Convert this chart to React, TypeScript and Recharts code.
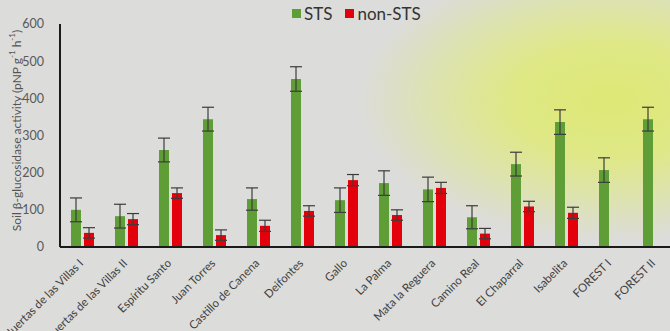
import React from "react";
import { BarChart, Bar, XAxis, YAxis, ErrorBar, Legend, Label } from "recharts";

const sites = [
  "Huertas de las Villas I",
  "Huertas de las Villas II",
  "Espíritu Santo",
  "Juan Torres",
  "Castillo de Canena",
  "Deifontes",
  "Gallo",
  "La Palma",
  "Mata la Reguera",
  "Camino Real",
  "El Chaparral",
  "Isabelita",
  "FOREST I",
  "FOREST II",
];

const stsValues = [100, 83, 261, 344, 129, 452, 126, 172, 155, 80, 223, 336, 207, 344];
const stsErrors = [32, 32, 32, 32, 30, 33, 33, 33, 33, 31, 32, 33, 33, 32];
const nonStsValues = [38, 75, 145, 32, 57, 97, 180, 86, 159, 36, 109, 92, null, null];
const nonStsErrors = [14, 15, 14, 14, 15, 14, 15, 14, 15, 14, 14, 15, null, null];

const yTicks = [0, 100, 200, 300, 400, 500, 600];

const GREEN = "#5f9d36";
const RED = "#e3000b";
const FONT = "Lato, 'Open Sans', sans-serif";

const data = sites.map((site, i) => ({
  site,
  sts: stsValues[i],
  stsErr: stsErrors[i],
  nonSts: nonStsValues[i],
  nonStsErr: nonStsErrors[i],
}));

function SiteTick({ x, y, payload }: any) {
  return (
    <g transform={`translate(${x + 2},${y + 15})`}>
      <text
        textAnchor="end"
        transform="rotate(-45)"
        fontSize={11.5}
        fontFamily={FONT}
        fill="#404040"
      >
        {payload.value}
      </text>
    </g>
  );
}

function YTitle({ viewBox }: any) {
  const cx = 16;
  const cy = viewBox.y + viewBox.height / 2 - 5;
  return (
    <text
      x={cx}
      y={cy}
      transform={`rotate(-90, ${cx}, ${cy})`}
      textAnchor="middle"
      dominantBaseline="central"
      fontSize={12}
      fontFamily={FONT}
      fill="#555"
    >
      Soil β-glucosidase activity (pNP g
      <tspan fontSize={8} dy={-4}>-1</tspan>
      <tspan dy={4}> h</tspan>
      <tspan fontSize={8} dy={-4}>-1</tspan>
      <tspan dy={4}>)</tspan>
    </text>
  );
}

function LegendBox() {
  const item = (color: string, label: string, gap: number) => (
    <span style={{ display: "inline-flex", alignItems: "center", marginRight: gap }}>
      <span style={{ width: 9, height: 9, background: color, display: "inline-block", marginRight: 3 }} />
      <span>{label}</span>
    </span>
  );
  return (
    <div
      style={{
        height: 24,
        paddingLeft: 292,
        paddingTop: 3,
        boxSizing: "border-box",
        fontFamily: FONT,
        fontSize: 17,
        color: "#333",
        display: "flex",
        alignItems: "center",
      }}
    >
      {item(GREEN, "STS", 13)}
      {item(RED, "non-STS", 0)}
    </div>
  );
}

export default function App() {
  return (
    <div
      style={{
        position: "absolute",
        left: 0,
        top: 0,
        width: 670,
        height: 331,
        overflow: "hidden",
        background:
          "radial-gradient(ellipse 250px 140px at 610px 100px, #dee876 0%, #dfe886 40%, #dde3ae 70%, #dcdcda 100%)",
        backgroundColor: "#dcdcda",
      }}
    >
      <BarChart
        width={680}
        height={331}
        data={data}
        margin={{ top: 0, right: 4, bottom: 0, left: 0 }}
        barSize={10}
        barGap={3}
      >
        <Legend
          verticalAlign="top"
          content={<LegendBox />}
          wrapperStyle={{ left: 0, top: 0, width: 680, height: 24 }}
        />
        <XAxis
          dataKey="site"
          interval={0}
          height={84}
          tick={<SiteTick />}
          tickLine={false}
          tickSize={0}
          axisLine={{ stroke: "#1a1a1a", strokeWidth: 2 }}
        />
        <YAxis
          domain={[0, 600]}
          ticks={yTicks}
          width={60}
          tickLine={false}
          tickMargin={10}
          axisLine={{ stroke: "#1a1a1a", strokeWidth: 2 }}
          tick={{ fill: "#595959", fontSize: 12.5, fontFamily: FONT }}
        >
          <Label content={<YTitle />} />
        </YAxis>
        <Bar dataKey="sts" name="STS" fill={GREEN} isAnimationActive={false}>
          <ErrorBar dataKey="stsErr" width={6} stroke="#3c3c3c" strokeWidth={1.2} />
        </Bar>
        <Bar dataKey="nonSts" name="non-STS" fill={RED} isAnimationActive={false}>
          <ErrorBar dataKey="nonStsErr" width={6} stroke="#3c3c3c" strokeWidth={1.2} />
        </Bar>
      </BarChart>
    </div>
  );
}
